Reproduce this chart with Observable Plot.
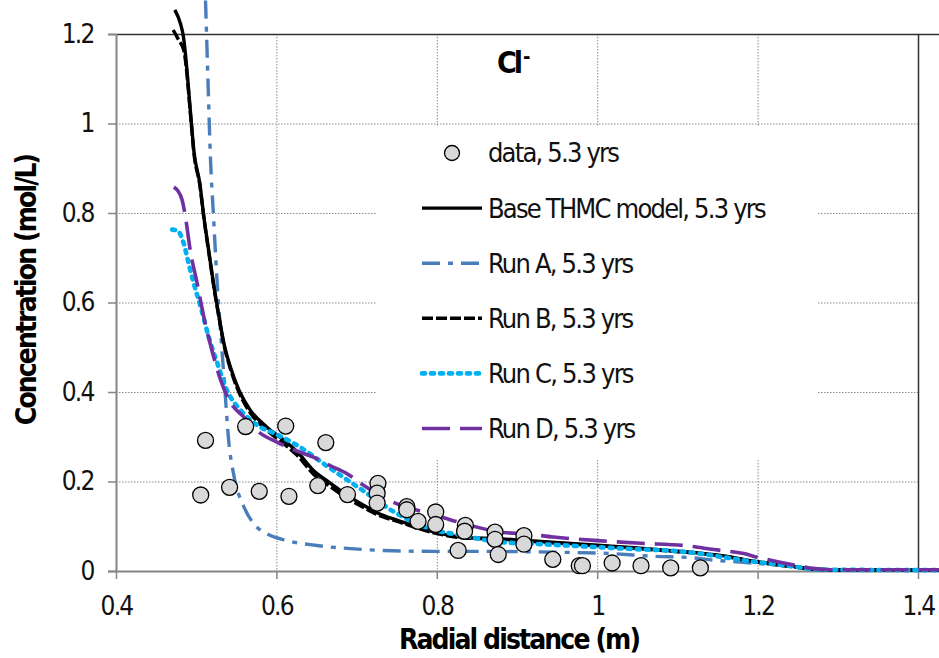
<!DOCTYPE html>
<html><head><meta charset="utf-8">
<script src="https://cdn.jsdelivr.net/npm/d3@7"></script>
<script src="https://cdn.jsdelivr.net/npm/@observablehq/plot@0.6"></script>
<style>
body{margin:0;background:#fff;}
#wrap{position:relative;width:939px;height:658px;overflow:hidden;font-family:"DejaVu Sans Condensed","DejaVu Sans",sans-serif;font-stretch:condensed;color:#000;}
#wrap svg text{letter-spacing:-1.8px;}
.ylab{position:absolute;left:26px;top:290px;transform:translate(-50%,-50%) rotate(-90deg);font-weight:bold;font-size:28px;letter-spacing:-1.9px;white-space:nowrap;}
.xlab{position:absolute;left:519px;top:639px;transform:translate(-50%,-50%);font-weight:bold;font-size:28px;letter-spacing:-1.9px;white-space:nowrap;}
.title{position:absolute;left:497px;top:44px;font-weight:bold;font-size:30px;letter-spacing:-3px;white-space:nowrap;}
.title .sup{display:inline-block;font-size:20px;letter-spacing:0;margin-left:3px;vertical-align:10px;}
#legend{position:absolute;left:376px;top:126px;width:441px;height:333px;background:#fff;}
#legend text{letter-spacing:-1.3px;}
</style></head><body><div id="wrap"></div>
<script>
// axis ticks
const xTicks = [0.4, 0.6, 0.8, 1.0, 1.2, 1.4];
const xTickLabels = ["0.4", "0.6", "0.8", "1", "1.2", "1.4"];
const yTicks = [0, 0.2, 0.4, 0.6, 0.8, 1.0, 1.2];
const yTickLabels = ["0", "0.2", "0.4", "0.6", "0.8", "1", "1.2"];

// measured data, 5.3 yrs
const dataX = [0.511,0.505,0.541,0.561,0.578,0.611,0.615,0.661,0.651,0.688,0.726,0.725,0.725,0.762,0.762,0.776,0.798,0.798,0.826,0.835,0.834,0.872,0.872,0.876,0.908,0.908,0.944,0.977,0.981,1.018,1.054,1.091,1.128];
const dataY = [0.293,0.171,0.188,0.324,0.179,0.325,0.168,0.288,0.192,0.172,0.197,0.175,0.153,0.145,0.138,0.112,0.133,0.105,0.047,0.103,0.090,0.088,0.072,0.038,0.080,0.061,0.027,0.013,0.013,0.019,0.013,0.008,0.008];

// Base THMC model
const baseX = [0.4727,0.4798,0.483,0.4935,0.4964,0.504,0.509,0.515,0.521,0.528,0.534,0.542,0.553,0.567,0.588,0.609,0.625,0.646,0.667,0.688,0.708,0.729,0.750,0.792,0.833,0.879,0.920,0.962,1.004,1.045,1.087,1.128,1.153,1.199,1.241,1.274,1.290,1.427];
const baseY = [1.255,1.224,1.200,1.000,0.941,0.866,0.792,0.717,0.643,0.568,0.509,0.457,0.404,0.360,0.322,0.293,0.268,0.225,0.197,0.170,0.148,0.128,0.115,0.090,0.076,0.073,0.068,0.063,0.058,0.053,0.047,0.041,0.036,0.022,0.012,0.005,0.004,0.003];

// Run A
const runAX = [0.511,0.514,0.517,0.521,0.5256,0.530,0.535,0.540,0.546,0.559,0.571,0.588,0.613,0.650,0.692,0.733,0.796,0.858,0.879,0.954,1.016,1.070,1.116,1.141,1.178,1.220,1.262,1.290,1.427];
const runAY = [1.276,1.100,0.930,0.792,0.643,0.531,0.410,0.290,0.218,0.144,0.107,0.084,0.069,0.058,0.051,0.047,0.045,0.045,0.0447,0.043,0.040,0.034,0.031,0.026,0.021,0.015,0.0075,0.004,0.003];

// Run B
const runBX = [0.4707,0.4777,0.484,0.4935,0.4964,0.504,0.509,0.515,0.521,0.528,0.534,0.542,0.553,0.567,0.588,0.609,0.625,0.646,0.667,0.688,0.708,0.729,0.750,0.792,0.833,0.879,0.920,0.962,1.004,1.045,1.087,1.128,1.153,1.199,1.241,1.274,1.290,1.427];
const runBY = [1.210,1.187,1.164,0.995,0.937,0.862,0.789,0.714,0.640,0.565,0.506,0.453,0.399,0.354,0.315,0.285,0.260,0.217,0.189,0.163,0.143,0.124,0.112,0.088,0.075,0.072,0.067,0.062,0.057,0.052,0.046,0.040,0.035,0.021,0.011,0.004,0.003,0.003];

// Run C
const runCX = [0.4694,0.476,0.484,0.490,0.4965,0.505,0.515,0.526,0.538,0.555,0.5755,0.600,0.625,0.667,0.708,0.750,0.792,0.833,0.879,0.920,0.962,1.004,1.045,1.087,1.128,1.157,1.199,1.241,1.274,1.290,1.427];
const runCY = [0.764,0.762,0.732,0.688,0.643,0.591,0.524,0.464,0.404,0.360,0.327,0.306,0.282,0.230,0.180,0.129,0.095,0.080,0.0655,0.062,0.058,0.054,0.050,0.047,0.040,0.032,0.021,0.012,0.0045,0.004,0.003];

// Run D
const runDX = [0.4715,0.476,0.482,0.486,0.492,0.5007,0.509,0.519,0.530,0.542,0.559,0.575,0.600,0.621,0.646,0.667,0.688,0.706,0.750,0.792,0.833,0.879,0.912,0.945,1.000,1.054,1.108,1.145,1.182,1.199,1.237,1.282,1.294,1.427];
const runDY = [0.859,0.852,0.829,0.792,0.717,0.643,0.568,0.494,0.427,0.378,0.345,0.315,0.289,0.272,0.255,0.236,0.218,0.195,0.151,0.129,0.107,0.088,0.084,0.077,0.069,0.063,0.058,0.049,0.040,0.032,0.017,0.0045,0.004,0.004];

const seriesLabels = ["data, 5.3 yrs","Base THMC model, 5.3 yrs","Run A, 5.3 yrs","Run B, 5.3 yrs","Run C, 5.3 yrs","Run D, 5.3 yrs"];

// styles (kept apart from the data)
const styles = [
  null,
  {stroke:"#000000", strokeWidth:3.4, strokeDasharray:null, strokeLinecap:"butt"},
  {stroke:"#4a7ebb", strokeWidth:3.4, strokeDasharray:"18,8,5,8", strokeLinecap:"butt"},
  {stroke:"#000000", strokeWidth:3.4, strokeDasharray:"11,3", strokeLinecap:"butt"},
  {stroke:"#00b0f0", strokeWidth:4.6, strokeDasharray:"3,6", strokeLinecap:"round"},
  {stroke:"#7030a0", strokeWidth:3.6, strokeDasharray:"28,10", strokeLinecap:"butt"}
];
const series = [null,[baseX,baseY],[runAX,runAY],[runBX,runBY],[runCX,runCY],[runDX,runDY]];
const toRows = (xs, ys) => xs.map((x, i) => ({x, y: ys[i]}));

const drawOrder = [2, 1, 3, 4, 5];
const lineMarks = drawOrder.map(k => Plot.line(toRows(series[k][0], series[k][1]), {
  x: "x", y: "y", curve: "monotone-x",
  stroke: styles[k].stroke, strokeWidth: styles[k].strokeWidth,
  strokeDasharray: styles[k].strokeDasharray, strokeLinecap: styles[k].strokeLinecap
}));

const xMax = xTicks[xTicks.length - 1], yMax = yTicks[yTicks.length - 1];

const chart = Plot.plot({
  width: 939, height: 658,
  marginTop: 34, marginLeft: 116, marginRight: 21, marginBottom: 87,
  style: {fontFamily: '"DejaVu Sans Condensed","DejaVu Sans",sans-serif', fontSize: "25px", color: "#000", background: "#fff"},
  x: {domain: [xTicks[0], xMax]},
  y: {domain: [yTicks[0], yMax]},
  marks: [
    Plot.gridX(xTicks, {stroke: "#8c8c8c", strokeOpacity: 1, strokeDasharray: "1.5,1.5", strokeWidth: 1}),
    Plot.gridY(yTicks, {stroke: "#8c8c8c", strokeOpacity: 1, strokeDasharray: "1.5,1.5", strokeWidth: 1}),
    Plot.ruleY([yMax], {stroke: "#303030", strokeWidth: 1.5, insetLeft: -8, insetRight: -21}),
    Plot.ruleX([xMax], {stroke: "#303030", strokeWidth: 1.5}),
    Plot.ruleX([xTicks[0]], {stroke: "#858585", strokeWidth: 2}),
    Plot.ruleY([yTicks[0]], {stroke: "#858585", strokeWidth: 2, insetLeft: -8, insetRight: -21}),
    Plot.axisX(xTicks, {tickSize: 8, tickPadding: 17, stroke: "#858585", strokeWidth: 1.5, fill: "#111", label: null,
      tickFormat: d => xTickLabels[xTicks.indexOf(d)], fontSize: 26}),
    Plot.axisY(yTicks, {tickSize: 8, tickPadding: 15, stroke: "#858585", strokeWidth: 1.5, fill: "#111", label: null,
      tickFormat: d => yTickLabels[yTicks.indexOf(d)], fontSize: 26}),
    ...lineMarks,
    Plot.dot(toRows(dataX, dataY), {x: "x", y: "y", r: 8, fill: "#d9d9d9", stroke: "#000", strokeWidth: 1.3})
  ]
});

const wrap = document.getElementById("wrap");
wrap.appendChild(chart);

// axis titles and chart title
const ylab = document.createElement("div"); ylab.className = "ylab"; ylab.textContent = "Concentration (mol/L)"; wrap.appendChild(ylab);
const xlab = document.createElement("div"); xlab.className = "xlab"; xlab.textContent = "Radial distance (m)"; wrap.appendChild(xlab);
const title = document.createElement("div"); title.className = "title"; title.innerHTML = "Cl<span class=\"sup\">-</span>"; wrap.appendChild(title);

// legend
const leg = document.createElement("div"); leg.id = "legend"; wrap.appendChild(leg);
const svg = d3.select(leg).append("svg").attr("width", 441).attr("height", 333);
const rowH = 55.1, row0 = 27;
seriesLabels.forEach((lab, i) => {
  const g = svg.append("g").attr("transform", `translate(0,${row0 + i * rowH})`);
  if (i === 0) {
    g.append("circle").attr("cx", 76).attr("cy", 0).attr("r", 7.5).attr("fill", "#d9d9d9").attr("stroke", "#000").attr("stroke-width", 1.3);
  } else {
    const s = styles[i];
    g.append("line").attr("x1", 46).attr("x2", 106).attr("y1", 0).attr("y2", 0)
      .attr("stroke", s.stroke).attr("stroke-width", s.strokeWidth)
      .attr("stroke-dasharray", s.strokeDasharray).attr("stroke-linecap", s.strokeLinecap);
  }
  g.append("text").attr("x", 112).attr("y", 0).attr("dy", "0.35em")
    .attr("font-size", 27).attr("fill", "#111")
    .attr("font-family", '"DejaVu Sans Condensed","DejaVu Sans",sans-serif')
    .text(lab);
});
</script>
</body></html>
